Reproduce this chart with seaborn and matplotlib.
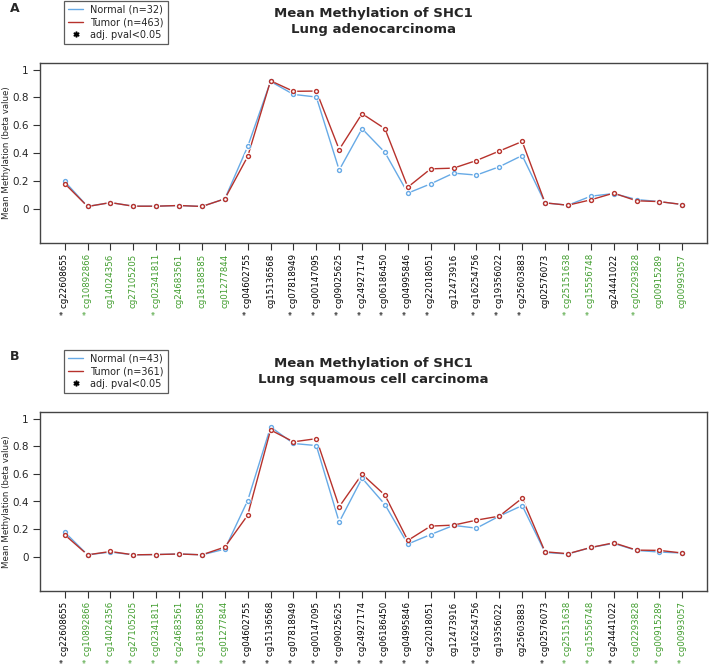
#!/usr/bin/env python3
"""
Mean methylation of SHC1 probes, normal vs tumor, two lung cancer cohorts
"""

import pandas as pd
import matplotlib
matplotlib.use("Agg")
import matplotlib.pyplot as plt
from matplotlib.lines import Line2D
import seaborn as sns

probes = ["cg22608655", "cg10892866", "cg14024356", "cg27105205", "cg02341811",
          "cg24683561", "cg18188585", "cg01277844", "cg04602755", "cg15136568",
          "cg07818949", "cg00147095", "cg09025625", "cg24927174", "cg06186450",
          "cg04995846", "cg22018051", "cg12473916", "cg16254756", "cg19356022",
          "cg25603883", "cg02576073", "cg25151638", "cg15556748", "cg24441022",
          "cg02293828", "cg00915289", "cg00993057"]

# probes drawn in green on the axis
green_probes = ["cg10892866", "cg14024356", "cg27105205", "cg02341811", "cg24683561",
                "cg18188585", "cg01277844", "cg25151638", "cg15556748", "cg02293828",
                "cg00915289", "cg00993057"]

# panel A - Lung adenocarcinoma
luad_normal = [0.195, 0.015, 0.043, 0.017, 0.017, 0.022, 0.015, 0.070, 0.447, 0.915,
               0.822, 0.803, 0.277, 0.575, 0.404, 0.111, 0.178, 0.255, 0.241, 0.301,
               0.382, 0.041, 0.024, 0.089, 0.108, 0.065, 0.050, 0.029]
luad_tumor = [0.180, 0.015, 0.043, 0.017, 0.017, 0.022, 0.015, 0.070, 0.375, 0.920,
              0.844, 0.846, 0.425, 0.683, 0.575, 0.154, 0.286, 0.291, 0.346, 0.414,
              0.483, 0.041, 0.024, 0.063, 0.111, 0.056, 0.050, 0.029]
luad_sig = ["cg22608655", "cg10892866", "cg02341811", "cg04602755", "cg07818949",
            "cg00147095", "cg09025625", "cg24927174", "cg06186450", "cg04995846",
            "cg22018051", "cg16254756", "cg19356022", "cg25603883", "cg25151638",
            "cg15556748", "cg02293828"]

# panel B - Lung squamous cell carcinoma
lusc_normal = [0.178, 0.014, 0.034, 0.014, 0.016, 0.020, 0.014, 0.055, 0.407, 0.940,
               0.820, 0.805, 0.251, 0.569, 0.378, 0.092, 0.161, 0.227, 0.207, 0.294,
               0.371, 0.031, 0.020, 0.067, 0.097, 0.046, 0.034, 0.027]
lusc_tumor = [0.159, 0.014, 0.038, 0.014, 0.016, 0.020, 0.014, 0.070, 0.301, 0.918,
              0.832, 0.855, 0.362, 0.598, 0.446, 0.118, 0.222, 0.229, 0.265, 0.294,
              0.424, 0.036, 0.022, 0.067, 0.101, 0.048, 0.046, 0.027]
lusc_not_sig = ["cg12473916", "cg19356022", "cg25603883"]
lusc_sig = [p for p in probes if p not in lusc_not_sig]

NORMAL_COL = "#67aae6"
TUMOR_COL = "#b7322c"
GREEN = "#3f9c2c"

sns.set_style("white")
plt.rcParams["font.family"] = ["DejaVu Sans"]

W, H = 709, 665
fig = plt.figure(figsize=(W / 100, H / 100), dpi=100)


def draw_panel(letter, subtitle, normal, tumor, sig, n_normal, n_tumor, top_px, bot_px):
    ax = fig.add_axes([40 / W, 1 - bot_px / H, 667 / W, (bot_px - top_px) / H])
    df = pd.DataFrame({
        "pos": list(range(1, len(probes) + 1)) * 2,
        "value": normal + tumor,
        "group": ["Normal"] * len(normal) + ["Tumor"] * len(tumor),
    })
    pal = {"Normal": NORMAL_COL, "Tumor": TUMOR_COL}
    sns.lineplot(data=df, x="pos", y="value", hue="group", palette=pal,
                 linewidth=1.0, legend=False, ax=ax, zorder=2)
    # white halo round each point, like R type="b"
    sns.scatterplot(data=df, x="pos", y="value", color="white", s=30,
                    edgecolor="none", legend=False, ax=ax, zorder=3)
    for grp, col in pal.items():
        sns.scatterplot(data=df[df.group == grp], x="pos", y="value", s=8,
                        facecolor="white", edgecolor=col, linewidth=1.0,
                        legend=False, ax=ax, zorder=4)

    ax.set_xlim(-0.08, len(probes) + 1.08)
    ax.set_ylim(-0.248, 1.048)
    ax.set_yticks([0, 0.2, 0.4, 0.6, 0.8, 1.0])
    ax.set_yticklabels(["0", "0.2", "0.4", "0.6", "0.8", "1"], fontsize=7.5)
    ax.set_xticks(range(1, len(probes) + 1))
    labels = [("* " if p in sig else "") + p for p in probes]
    ax.set_xticklabels(labels, rotation=90, fontsize=6.2, va="top", ha="center")
    for tl, p in zip(ax.get_xticklabels(), probes):
        tl.set_color(GREEN if p in green_probes else "black")
    ax.tick_params(axis="both", direction="out", length=5, width=0.8,
                   color="#333333", pad=3, bottom=True, left=True)
    ax.set_xlabel("")
    ax.set_ylabel("Mean Methylation (beta value)", fontsize=6.2)
    ax.yaxis.set_label_coords(-0.044, 0.5)
    for sp in ax.spines.values():
        sp.set_color("#444444")
        sp.set_linewidth(1.0)

    # titles and legend sit above the plot box
    cx = (40 + 707) / 2 / W
    fig.text(10 / W, 1 - (top_px - 55) / H, letter, fontsize=9, fontweight="bold",
             va="center", ha="left")
    fig.text(cx, 1 - (top_px - 49) / H, "Mean Methylation of SHC1", fontsize=9.5,
             fontweight="bold", ha="center", va="center")
    fig.text(cx, 1 - (top_px - 33) / H, subtitle, fontsize=9.5,
             fontweight="bold", ha="center", va="center")
    handles = [Line2D([], [], color=NORMAL_COL, lw=1.0),
               Line2D([], [], color=TUMOR_COL, lw=1.0),
               Line2D([], [], color="black", lw=0, marker="$*$", markersize=3.5)]
    leg = fig.legend(handles, [f"Normal (n={n_normal})", f"Tumor (n={n_tumor})",
                               "adj. pval<0.05"],
                     loc="upper left", bbox_to_anchor=(64 / W, 1 - (top_px - 62) / H),
                     fontsize=7, frameon=True, fancybox=False, handlelength=1.6,
                     labelspacing=0.25, borderpad=0.4, handletextpad=0.7,
                     borderaxespad=0)
    leg.get_frame().set_edgecolor("#333333")
    leg.get_frame().set_linewidth(0.9)
    return ax


draw_panel("A", "Lung adenocarcinoma", luad_normal, luad_tumor, luad_sig,
           32, 463, 63, 243)
draw_panel("B", "Lung squamous cell carcinoma", lusc_normal, lusc_tumor, lusc_sig,
           43, 361, 412, 591)

fig.savefig("out.png", dpi=100)
